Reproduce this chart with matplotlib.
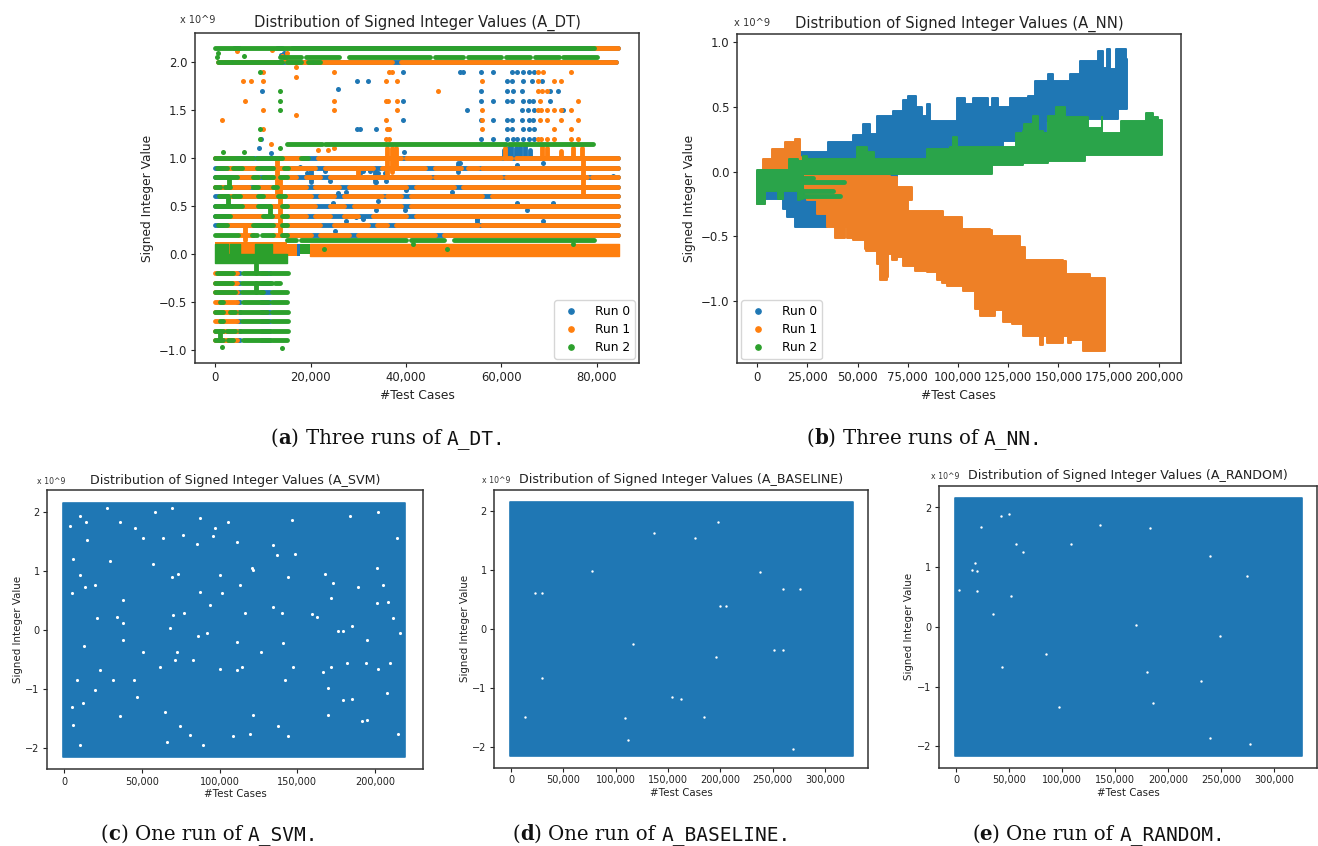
import matplotlib
matplotlib.use("Agg")
import matplotlib.pyplot as plt
from matplotlib.ticker import FuncFormatter

W, H = 1318, 846
BLUE, ORANGE, GREEN = "#1f77b4", "#ff7f0e", "#2ca02c"
RUNS = ["Run 0", "Run 1", "Run 2"]

# ---- A_DT, x in thousands of test cases, y in 10^9 ----
dt_levels = [1.0, 0.9, 0.8, 0.7, 0.6, 0.5, 0.4, 0.3, 0.2]
dt_neg_levels = [-0.2, -0.3, -0.4, -0.5, -0.6, -0.7, -0.8, -0.9]
dt_orange_segs = [
    [(0, 4), (14, 18), (21.5, 24), (24.5, 39), (40, 60), (60.5, 62), (63, 84.5)],
    [(2, 9), (12, 21), (23, 33), (35, 44), (46, 51.5), (53, 55), (56, 84.5)],
    [(4, 9), (11, 17), (19, 22), (24, 45), (46, 60), (61, 78), (79, 84.5)],
    [(0, 7), (9, 12), (13, 19), (21, 26), (28, 40), (42, 50), (52, 84.5)],
    [(3, 9), (10, 13), (14, 20), (22, 25), (27, 35), (36, 39), (41, 56), (58, 84.5)],
    [(4, 9), (11, 14), (15, 21), (24, 27), (29, 39), (41, 84.5)],
    [(3, 10), (12, 19), (21, 24), (27, 30), (33, 40), (42, 84.5)],
    [(2, 8), (12, 22), (25, 32), (34, 36), (38, 55), (56, 84.5)],
    [(5, 8), (12, 20), (22, 28), (30, 46), (48, 84.5)],
]
dt_green_segs = [
    [(0, 4.1), (4.6, 6.2), (6.7, 8), (8.7, 13.9), (18, 19.5)],
    [(0.3, 2.4), (3.8, 5.5), (8.7, 10), (10.5, 12.1), (14.5, 15.2)],
    [(0, 4.5), (8, 9), (10, 12), (13.5, 15)],
    [(0, 1), (2, 3), (8, 9), (12, 13)],
    [(0.7, 2.4), (3.8, 5.2), (9, 10), (13.2, 14.6)],
    [(0, 5.5), (9, 11.5), (13.9, 15)],
    [(0, 3.1), (10, 11.8), (14, 15)],
    [(0.6, 2.4), (8, 12.2), (14, 15)],
    [(0, 4.8), (7.6, 8.7), (9.7, 12.2), (14, 15)],
]
dt_green_neg_segs = [
    [(0.3, 3.8), (5.9, 10.8), (11.5, 15.3)],
    [(0, 3.4), (5.5, 11.8), (12.5, 13.6), (14.8, 14.9)],
    [(0, 4.1), (5.5, 10), (11.8, 15)],
    [(1, 1.7), (5.9, 11.1), (11.8, 15)],
    [(0, 1.7), (3.1, 4.1), (5.2, 10.8), (11.8, 15.3)],
    [(1, 1.7), (5.5, 11.1), (11.8, 15.3)],
    [(0, 1.7), (2.4, 4.1), (5.2, 11.5), (11.8, 15.3)],
    [(0, 1.7), (2.7, 3.8), (5.9, 11.5), (11.8, 15)],
]
dt_top_blue = [(4, 5), (13, 14), (16, 84.5)]
dt_top_orange = [(79, 84.5)]
dt_top_green = [(0, 79.5)]
dt_205_green = [(13.5, 18), (19, 26), (28, 45), (46, 52), (53, 60), (61, 66), (67, 72), (73, 80)]
dt_200_orange = [(0.5, 3), (4, 13), (15, 20), (21, 37), (39, 84)]
dt_200_green = [(0.5, 13.9), (15, 18), (19.5, 22)]
dt_115_green = [(15, 22.3), (23.1, 61), (61.7, 79.2)]
dt_015_green = [(15, 17), (18, 40), (41, 48), (50, 79.5)]
dt_blue_extra = [(17.8, 0.91), (19.2, 0.84), (23, 0.86), (24, 0.76), (25.8, 0.635), (27.5, 0.65), (24.7, 0.53),
                 (30.3, 0.84), (31, 0.86), (32.4, 0.86), (34.2, 0.84), (35.6, 0.84), (33.8, 0.75), (35.9, 0.76),
                 (34.2, 0.55), (33.8, 0.46), (31, 0.36), (29.6, 0.39), (27.5, 0.34), (25.1, 0.24), (40.1, 0.67),
                 (39.8, 0.46), (49.6, 0.65), (51.3, 0.95), (51.6, 0.90), (54.8, 0.36), (65.3, 0.46), (68.8, 0.95),
                 (63.2, 0.93), (68.8, 0.34), (70.9, 0.53), (63.2, 0.53), (83.5, 0.81), (39.6, 1.06),
                 (39.44, 1.9), (51.3, 1.9), (52, 1.9), (55.67, 1.9), (58.32, 1.9), (62.25, 1.9), (63.2, 1.9), (64.6, 1.9),
                 (65.8, 1.9), (66.86, 1.9), (29.72, 1.8), (32.03, 1.8), (61.12, 1.8), (62.17, 1.8), (64.6, 1.8),
                 (66.37, 1.8), (68.6, 1.8), (9.73, 1.7), (25.8, 1.72), (55.67, 1.7), (61.12, 1.7), (62.52, 1.7),
                 (64.27, 1.7), (70.21, 1.7), (71.96, 1.7), (39.44, 1.6), (55.67, 1.6), (58.32, 1.6), (61.12, 1.6),
                 (62.17, 1.6), (64.6, 1.6), (65.8, 1.6), (66.6, 1.6), (70.21, 1.6), (52.87, 1.5), (64.27, 1.5),
                 (65.67, 1.5), (66.86, 1.5), (72.9, 1.5), (39.44, 1.4), (55.67, 1.4), (58.32, 1.4), (61.12, 1.4),
                 (62.17, 1.4), (64.27, 1.4), (65.8, 1.4), (66.6, 1.4), (29.72, 1.3), (30.3, 1.3), (33.71, 1.3),
                 (61.12, 1.3), (62.17, 1.3), (64.6, 1.3), (65.8, 1.3), (66.86, 1.3), (55.67, 1.2), (58.32, 1.2),
                 (61.12, 1.2), (62.5, 1.2), (63.2, 1.2), (64.6, 1.2), (65.8, 1.2), (66.86, 1.2), (9.6, 1.2),
                 (9.17, 1.1), (11.7, 1.05), (13.8, 2.07), (14.5, 2.1)]
dt_orange_extra = [(10, 1.9), (17, 1.95), (24.9, 1.9), (36.4, 1.9), (37, 1.9), (74.68, 1.9), (67.75, 1.9), (68.8, 1.9),
                   (17, 1.85), (5.88, 1.8), (7.49, 1.8), (10, 1.8), (35.81, 1.8), (38.05, 1.8), (55.88, 1.8), (67.7, 1.8),
                   (71.12, 1.8), (72.45, 1.8), (46.78, 1.7), (67.75, 1.7), (68.6, 1.7), (69.5, 1.7), (6.3, 1.6), (24.9, 1.6),
                   (35.81, 1.6), (36.3, 1.6), (38.05, 1.6), (68.1, 1.6), (76.15, 1.6), (10, 1.5), (24.9, 1.5), (38.05, 1.5),
                   (55.88, 1.5), (67.75, 1.5), (68.4, 1.5), (69.6, 1.5), (71.12, 1.5), (72.45, 1.5), (74.68, 1.5), (1.4, 1.4),
                   (17, 1.45), (35.81, 1.4), (55.88, 1.4), (68.1, 1.4), (69.6, 1.4), (72.45, 1.4), (76.15, 1.4), (10, 1.3),
                   (36, 1.3), (36.4, 1.3), (55.88, 1.3), (71.12, 1.3), (74.68, 1.3), (35.9, 1.2), (36.4, 1.2), (67.75, 1.2),
                   (68.4, 1.2), (69.6, 1.2), (71.12, 1.2), (74.68, 1.2), (76.15, 1.2), (11.7, 1.15), (21.6, 1.08),
                   (23.7, 1.08), (24.9, 1.1), (4.5, 2.12), (11.8, 2.13), (14, 2.06), (15, 2.1), (14.6, 2.02)]
dt_green_extra = [(9.31, 1.9), (13.57, 1.7), (13.57, 1.6), (13.57, 1.5), (9.31, 1.3), (9.31, 1.2), (13.57, 1.1),
                  (1.64, 1.06), (5.98, 1.06), (22.7, 0.05), (48.5, 0.05), (1.48, -0.97), (13.92, -0.98), (41.5, 0.1),
                  (5.98, 2.06), (75, 0.1), (0.3, 2.05), (0.5, 2.1)]
dt_orange_bars = [(60.8, 1.0, 1.1), (68.5, 1.0, 1.12), (69.6, 1.0, 1.1), (72.5, 1.0, 1.07), (75, 1.0, 1.1),
                  (76.9, 1.0, 1.1), (77.2, 0.6, 1.0), (36, 0.8, 1.1), (37, 0.85, 1.1), (38, 0.9, 1.1), (13, 0.6, 1.0),
                  (13.6, 0.2, 0.8), (6.2, 0.15, 0.3), (30, 0.8, 0.9)]
dt_blue_bars = [(60.5, 1.0, 1.08), (61.3, 1.0, 1.1), (62, 1.0, 1.12), (63, 1.0, 1.1), (64, 1.0, 1.12), (65, 1.0, 1.13),
                (66, 1.0, 1.08), (51, 0.85, 0.95), (54.8, 0.33, 0.36), (20, 0.75, 0.9), (33.5, 0.75, 0.87)]
dt_green_bars = [(2.8, 0.7, 0.8), (2.6, 0.5, 0.6), (11.5, 0.4, 0.5), (8.5, -0.2, -0.1), (8.5, -0.4, -0.3), (1, -0.9, -0.8)]
dt_green_band_x = [0, 2.7, 3.1, 5.2, 8.3, 11.8, 15]
dt_green_band_hi = [0.1, 0.0, 0.1, 0.0, 0.1, 0.0, 0.0]

# ---- A_NN outlines, x in thousands of test cases, y in 10^9 ----
nn_blue_x = [0, 21.2, 33.7, 35.4, 42.8, 47.8, 52.8, 56.1, 59.4, 64.4, 67.7, 72.7, 75.2, 79.3, 81.8, 84.3, 86, 92.6, 99.3,
             102.6, 103.4, 107.6, 114.2, 115, 116.7, 119.2, 120, 125.8, 134.9, 138.3, 144.9, 147.4, 155.7, 160.7, 169,
             169.8, 172, 174, 175.6, 178.9, 183.9, 184.2, 179.8, 155.7, 144, 122.5, 84.3, 69.4, 59.4, 37.8, 34.5,
             26.2, 18.8, 14.6, 12.9, 1.3, 0]
nn_blue_y = [0, 0.15, 0.15, 0.225, 0.225, 0.28, 0.37, 0.29, 0.43, 0.43, 0.47, 0.55, 0.58, 0.5, 0.43, 0.52, 0.39, 0.39, 0.565,
             0.565, 0.52, 0.565, 0.565, 0.5, 0.565, 0.565, 0.5, 0.565, 0.58, 0.7, 0.75, 0.7, 0.75, 0.85, 0.855,
             0.93, 0.8, 0.945, 0.79, 0.945, 0.87, 0.485, 0.405, 0.39, 0.24, 0.16, 0.03, -0.08, -0.045, -0.35, -0.43,
             -0.43, -0.35, -0.29, -0.21, -0.25, -0.21]
nn_orange_x = [22.9, 66.1, 69.4, 76.9, 76.9, 75.2, 91, 92.6, 97.6, 101.8, 115.9, 116.7, 130, 130.8, 133.3, 152.4, 154,
               164.8, 165.7, 173.1, 173.1, 164.8, 162.3, 156.5, 154.9, 152.4, 147.4, 144.1, 142.4, 140.8, 132.5, 126.7,
               122.5, 118.4, 110.9, 108.4, 102.6, 94.3, 91.8, 89.3, 84.3, 78.5, 72.7, 69.4, 66.9, 65.2, 64.4, 61.1, 59.4,
               54.4, 53.6, 47.8, 44.5, 43.7, 41.2, 38.7, 34.5, 29.5, 24.6]
nn_orange_y = [-0.03, -0.044, -0.12, -0.12, -0.22, -0.3, -0.3, -0.35, -0.35, -0.44, -0.45, -0.5, -0.5, -0.58, -0.68, -0.69,
               -0.79, -0.79, -0.82, -0.82, -1.385, -1.385, -1.3, -1.32, -1.265, -1.325, -1.325, -1.265, -1.335, -1.265,
               -1.175, -1.16, -1.07, -1.11, -1.06, -0.92, -0.885, -0.855, -0.835, -0.775, -0.765, -0.725, -0.66, -0.68,
               -0.635, -0.815, -0.835, -0.71, -0.61, -0.595, -0.53, -0.51, -0.43, -0.51, -0.51, -0.43, -0.33, -0.22, -0.22]
nn_orange_lobe_x = [0, 3, 7.1, 12.1, 13.8, 18.8, 21.2, 22, 3.8, 3.8, 1.3, 0]
nn_orange_lobe_y = [-0.07, 0.1, 0.175, 0.175, 0.225, 0.25, 0.11, -0.03, -0.03, -0.25, -0.25, -0.15]
nn_green_x = [0, 15.4, 16, 20.4, 22.9, 24.6, 49.5, 49.5, 54.4, 54.8, 57.8, 58.1, 84.3, 84.3, 95.9, 97.6, 99.6, 125.8, 129.1,
              132.5, 132.8, 136.6, 137.4, 139.1, 139.9, 142.1, 144.1, 144.9, 148.2, 148.6, 152.9, 153.2, 164, 164.8,
              171.5, 171.8, 180.6, 181.4, 193, 193.5, 196.4, 196.9, 199.7, 201.8, 201.8, 164, 163.2, 144.9, 132.5,
              116.7, 116.7, 22.9, 22.9, 21.2, 20.4, 13.8, 12.9, 11.3, 10.5, 5.5, 3.8, 1.7, 0]
nn_green_y = [0.015, 0.015, 0.1, 0.085, 0.12, 0.1, 0.1, 0.19, 0.19, 0.15, 0.15, 0.1, 0.1, 0.175, 0.19, 0.27, 0.19, 0.19, 0.3,
              0.315, 0.37, 0.37, 0.43, 0.43, 0.315, 0.3, 0.24, 0.43, 0.43, 0.5, 0.5, 0.42, 0.42, 0.34, 0.42, 0.3, 0.3, 0.39,
              0.39, 0.45, 0.45, 0.42, 0.4, 0.36, 0.125, 0.125, 0.085, 0.065, 0.055, 0.02, -0.015, -0.02, -0.21, -0.22,
              -0.15, -0.15, -0.21, -0.21, -0.15, -0.15, -0.25, -0.25, -0.12]
nn_green_bars = [(22, 43.2, -0.08), (22, 37.8, -0.15), (22, 41.2, -0.185), (22, 27.9, -0.05)]

# ---- single runs: extent and the holes that show in the blue area ----
svm_extent = (-0.5, 219.5, -2.15, 2.15)
svm_holes_x = [3.9, 14.2, 36, 85.3, 4.9, 33.9, 37.7, 13.1, 8.6, 45.2, 10.3, 83.2, 61.7, 111.5, 111.5, 126.7, 137.9, 108.9,
               89.6, 202.2, 148.6, 76.8, 87.5, 105.7, 134.2, 214, 201.1, 171.7, 159.2, 140, 77.4, 69.3, 93.9, 68.2, 86.4,
               185.5, 194.2, 202.2, 166.8, 171.7, 170, 185.5, 191.5, 144.3, 36, 12, 6, 14.6, 29.6, 57.5, 120.7, 211.8,
               179.7, 141.1, 116.4, 58.5, 69.3, 146.4, 184, 215, 71.4,
               10.3, 27.4, 45.7, 51, 63.9, 97.1, 96, 111, 136.8, 121.8, 144.3, 167.9, 189.3, 205.4, 208.6, 201.1, 173.2,
               100.3, 87.5, 73.5, 38.2, 13.5, 10.3, 19.9, 21, 38.2, 70.3, 101.4, 113.2, 134.6, 162.5, 194.7, 176.5, 216.1,
               51, 72.5, 91.8, 100.3, 114.3, 142.2, 147.5, 181.8, 209.7, 207.5, 179.7, 170, 194.7, 121.8, 65, 46.7, 19.9,
               5, 6, 31.7, 23.2, 74.6, 81, 119.6, 66]
svm_holes_y = [1.75, 1.83, 1.83, 1.46, 0.63, 0.22, -0.175, -0.28, -0.85, -0.85, -1.95, -0.51, -0.64, -0.68, -0.2, -0.37, -1.64,
               -1.81, -1.95, 2.0, 1.29, 1.6, 1.89, 1.83, 1.43, 1.56, 1.04, 0.53, 0.26, 0.29, 0.28, 0.89, 0.42, 0.03, -0.1,
               0.07, -0.56, -0.67, -0.71, -0.63, -0.98, -1.18, -1.55, -1.81, -1.47, -1.25, 1.2, 1.52, 1.17, 1.11, 1.04, 0.19,
               -0.02, -0.23, 0.28, 2.0, 2.07, 1.86, 1.92, -1.76, -0.51,
               1.92, 2.06, 1.72, 1.55, 1.55, 1.72, 1.58, 1.49, 1.27, 1.01, 0.9, 0.95, 0.73, 0.76, 0.47, 0.45, 0.79,
               0.93, 0.64, 0.95, 0.5, 0.73, 0.93, 0.76, 0.19, 0.11, 0.25, 0.62, 0.76, 0.39, 0.22, -0.175, -0.02, -0.06,
               -0.37, -0.37, -0.05, -0.66, -0.63, -0.85, -0.63, -0.57, -0.57, -1.08, -1.19, -1.45, -1.53, -1.45, -1.39, -1.14,
               -1.02, -1.31, -1.62, -0.85, -0.68, -1.64, -1.79, -1.76, -1.9]
base_extent = (-0.5, 326.5, -2.16, 2.16)
base_holes_x = [184.7, 199.7, 205.4, 237.9, 162.4, 108.9, 29.3, 116.3, 136.6, 22.9, 29.3, 77.7, 260.2, 276.1, 260.2, 251.3,
                195.6, 112.1, 269.8, 153.5, 13.4, 175.8, 198.1]
base_holes_y = [-1.49, 0.39, 0.39, 0.97, -1.19, -1.52, -0.83, -0.26, 1.62, 0.61, 0.61, 0.98, 0.68, 0.68, -0.36, -0.36, -0.475,
                -1.88, -2.04, -1.15, -1.49, 1.55, 1.81]
rand_extent = (-0.5, 326.5, -2.16, 2.16)
rand_holes_x = [51.9, 23.3, 50.3, 56.6, 63.5, 108.2, 19.5, 14.8, 17.9, 2.8, 19.5, 34.6, 84.6, 97.2, 179.9, 185.6, 231.2, 274.2,
                239.6, 249.1, 277.4, 239.6, 183, 135.9, 43.7, 42.1, 169.8]
rand_holes_y = [0.52, 1.67, 1.89, 1.39, 1.26, 1.39, 0.94, 0.96, 1.07, 0.62, 0.61, 0.21, -0.45, -1.34, -0.76, -1.27, -0.9, 0.86,
                1.19, -0.145, -1.96, -1.85, 1.66, 1.71, -0.67, 1.86, 0.03]

plt.rcParams["axes.linewidth"] = 1.1
plt.rcParams["axes.edgecolor"] = "#333333"
fig = plt.figure(figsize=(W / 100, H / 100), dpi=100)
LW = 3.5


def make_axes(left, right, top, bottom):
    return fig.add_axes([left / W, 1 - bottom / H, (right - left) / W, (bottom - top) / H])


def style(ax, name, xlim, ylim, xticks, yticks, yfmt, fs, lfs, tfs, scale_pos, label_pad=2, title_pad=4.5):
    ax.set_xlim(*xlim)
    ax.set_ylim(*ylim)
    ax.set_xticks(xticks)
    ax.set_yticks(yticks)
    ax.xaxis.set_major_formatter(FuncFormatter(lambda v, _: f"{v * 1000:,.0f}"))
    ax.yaxis.set_major_formatter(FuncFormatter(lambda v, _: format(v, yfmt).replace("-", "\u2212")))
    ax.tick_params(labelsize=fs, length=3, width=0.8, pad=2.5, colors="#222222")
    ax.set_title(f"Distribution of Signed Integer Values ({name})", fontsize=tfs, pad=title_pad, color="#222222")
    ax.set_xlabel("#Test Cases", fontsize=lfs, labelpad=label_pad, color="#222222")
    ax.set_ylabel("Signed Integer Value", fontsize=lfs, labelpad=label_pad, color="#222222")
    fig.text(scale_pos[0] / W, 1 - scale_pos[1] / H, "x 10^9", fontsize=fs - 1.4, va="center", color="#333333")


def hsegs(ax, y, segs, color, z):
    ax.hlines([y] * len(segs), [s[0] for s in segs], [s[1] for s in segs], color=color, lw=LW, capstyle="round", zorder=z)


def vbars(ax, bars, color, z):
    ax.vlines([b[0] for b in bars], [b[1] for b in bars], [b[2] for b in bars], color=color, lw=LW, capstyle="round", zorder=z)


def dots(ax, pts, color, z):
    ax.scatter([p[0] for p in pts], [p[1] for p in pts], s=13, color=color, linewidths=0, zorder=z)


def stairs(xs, ys):
    # blocky outline, the dense dots in the reference pile up in steps
    out_x, out_y = [xs[0]], [ys[0]]
    for x, y in zip(xs[1:], ys[1:]):
        out_x += [x, x]
        out_y += [out_y[-1], y]
    return out_x, out_y


def legend(ax, loc):
    for c, r in zip([BLUE, ORANGE, GREEN], RUNS):
        ax.plot([], [], "o", ms=3.8, color=c, label=r)
    ax.legend(loc=loc, fontsize=8.8, borderaxespad=0.35, labelspacing=0.4, handletextpad=0.9, borderpad=0.4)


def caption(x, y, tag, text, code):
    r = fig.canvas.get_renderer()
    kw = dict(va="baseline", color="#111111")
    for s, extra in [(tag[0], dict(fontsize=14.2, family="DejaVu Serif")),
                     (tag[1], dict(fontsize=14.2, family="DejaVu Serif", fontweight="bold")),
                     (tag[2:] + " ", dict(fontsize=14.2, family="DejaVu Serif")),
                     (text + " ", dict(fontsize=14.2, family="DejaVu Serif")),
                     (code + ".", dict(fontsize=14, family="DejaVu Sans Mono"))]:
        t = fig.text(x / W, 1 - y / H, s.replace(" ", "\u00a0"), **kw, **extra)
        x = t.get_window_extent(r).x1


# panel (a)
ax = make_axes(195, 639, 33, 363)
for lvl in dt_levels:
    hsegs(ax, lvl, [(0, 84.5)] if lvl > 0.25 else [(14, 84.5)], BLUE, 2)
for lvl in dt_neg_levels:
    hsegs(ax, lvl, [(4.5, 5.2), (9.5, 11.5)], BLUE, 2)
    hsegs(ax, lvl, [(0, 4.6)], ORANGE, 3)
hsegs(ax, 2.15, dt_top_blue, BLUE, 2)
hsegs(ax, 2.0, [(2, 84)], BLUE, 2)
dots(ax, dt_blue_extra, BLUE, 2.5)
vbars(ax, dt_blue_bars, BLUE, 2.5)
ax.fill_between([17.2, 17.8], [-0.02, -0.02], [0.1, 0.1], color=BLUE, lw=0, zorder=2)
for lvl, segs in zip(dt_levels, dt_orange_segs):
    hsegs(ax, lvl, segs, ORANGE, 3)
hsegs(ax, 2.15, dt_top_orange, ORANGE, 3)
hsegs(ax, 2.0, dt_200_orange, ORANGE, 3)
dots(ax, dt_orange_extra, ORANGE, 3)
vbars(ax, dt_orange_bars, ORANGE, 3)
ax.fill_between([0, 15], [-0.09, -0.09], [0.12, 0.12], color=ORANGE, lw=0, zorder=3)
ax.fill_between([15, 17.2], [-0.02, -0.02], [0.1, 0.1], color=ORANGE, lw=0, zorder=3)
ax.fill_between([19.9, 84.7], [-0.02, -0.02], [0.1, 0.1], color=ORANGE, lw=1, zorder=3)
for lvl, segs in zip(dt_levels, dt_green_segs):
    hsegs(ax, lvl, segs, GREEN, 4)
for lvl, segs in zip(dt_neg_levels, dt_green_neg_segs):
    hsegs(ax, lvl, segs, GREEN, 4)
hsegs(ax, 2.15, dt_top_green, GREEN, 4)
hsegs(ax, 2.05, dt_205_green, GREEN, 4)
hsegs(ax, 2.0, dt_200_green, GREEN, 4)
hsegs(ax, 1.15, dt_115_green, GREEN, 4)
hsegs(ax, 0.15, dt_015_green, GREEN, 4)
dots(ax, dt_green_extra, GREEN, 4)
vbars(ax, dt_green_bars, GREEN, 4)
ax.fill_between(dt_green_band_x, [-0.09] * len(dt_green_band_x), dt_green_band_hi, step="post", color=GREEN, lw=1, zorder=4)
ax.fill_between([17.8, 19.9], [0, 0], [0.1, 0.1], color=GREEN, lw=0, zorder=4)
style(ax, "A_DT", (-4.26, 88.87), (-1.137, 2.304), [0, 20, 40, 60, 80], [-1, -0.5, 0, 0.5, 1, 1.5, 2], ".1f",
      8.4, 8.8, 10.6, (180, 20), label_pad=3.5)
legend(ax, "lower right")

# panel (b)
ax = make_axes(737, 1180.7, 33.7, 363.3)
ax.fill(*stairs(nn_blue_x, nn_blue_y), color=BLUE, lw=1.4, joinstyle="round", zorder=2)
ax.fill(*stairs(nn_orange_x, nn_orange_y), color="#ee8026", lw=1.4, joinstyle="round", zorder=3)
ax.fill(*stairs(nn_orange_lobe_x, nn_orange_lobe_y), color="#ee8026", lw=1.4, joinstyle="round", zorder=3)
ax.fill(*stairs(nn_green_x, nn_green_y), color="#2aa44a", lw=1.4, joinstyle="round", zorder=4)
ax.hlines([b[2] for b in nn_green_bars], [b[0] for b in nn_green_bars], [b[1] for b in nn_green_bars],
          color="#2aa44a", lw=LW, capstyle="round", zorder=4)
style(ax, "A_NN", (-10.1, 210.9), (-1.478, 1.064), list(range(0, 201, 25)), [-1, -0.5, 0, 0.5, 1], ".1f",
      8.5, 8.8, 10.6, (734, 23), label_pad=3.5)
legend(ax, "lower left")

# panels (c), (d), (e)
panels = [
    ("A_SVM", (47.3, 422.7, 490, 769), svm_extent, svm_holes_x, svm_holes_y, [0, 50, 100, 150, 200], (37, 481)),
    ("A_BASELINE", (494.3, 867.7, 489.7, 767.7), base_extent, base_holes_x, base_holes_y,
     [0, 50, 100, 150, 200, 250, 300], (482, 480)),
    ("A_RANDOM", (938.7, 1317.3, 485.7, 767.7), rand_extent, rand_holes_x, rand_holes_y,
     [0, 50, 100, 150, 200, 250, 300], (931, 476)),
]
zero_px = [64, 511, 956]
per_k = [311 / 200, 314 / 300, 318 / 300]
y0_px = [629.7, 628.8, 627]
per_unit = [59, 58.9, 59.75]
hole_size = [5, 3, 3]
for i, (name, box, ext, hx, hy, ticks, pos) in enumerate(panels):
    ax = make_axes(*box)
    ax.fill_between([ext[0], ext[1]], [ext[2]] * 2, [ext[3]] * 2, color=BLUE, lw=1.2, zorder=2)
    ax.scatter(hx, hy, s=hole_size[i], color="white", linewidths=0, zorder=3)
    xlim = ((box[0] - zero_px[i]) / per_k[i], (box[1] - zero_px[i]) / per_k[i])
    ylim = ((y0_px[i] - box[3]) / per_unit[i], (y0_px[i] - box[2]) / per_unit[i])
    style(ax, name, xlim, ylim, ticks, [-2, -1, 0, 1, 2], ".0f", 7, 7.35, 9.1, pos, label_pad=2)

caption(271, 444, "(a)", "Three runs of", "A_DT")
caption(807, 444, "(b)", "Three runs of", "A_NN")
caption(101, 840, "(c)", "One run of", "A_SVM")
caption(513, 840, "(d)", "One run of", "A_BASELINE")
caption(972, 840, "(e)", "One run of", "A_RANDOM")

fig.savefig("out.png", dpi=100)
